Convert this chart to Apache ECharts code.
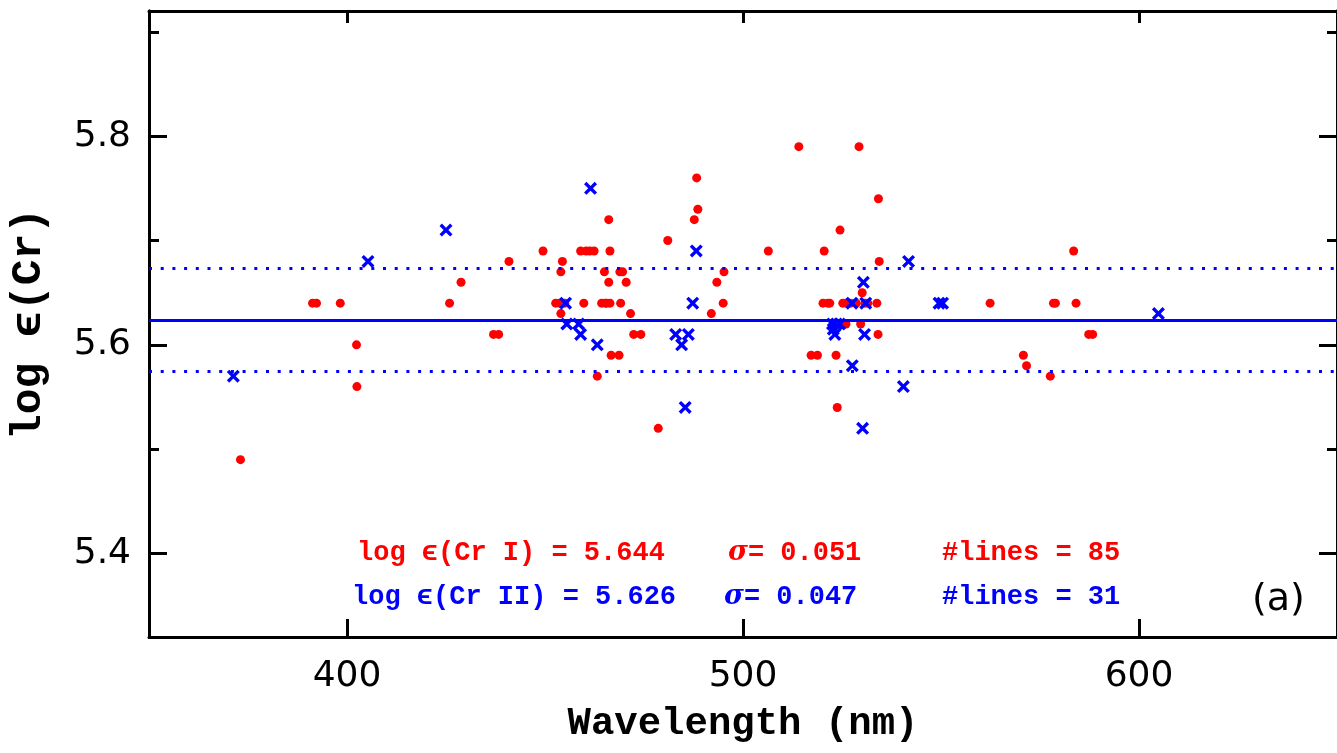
<!DOCTYPE html>
<html>
<head>
<meta charset="utf-8">
<title>log eps(Cr)</title>
<script src="https://cdn.jsdelivr.net/npm/echarts@6/dist/echarts.min.js"></script>
<style>
  html, body { margin: 0; padding: 0; background: #fff; }
  #chart { width: 1337px; height: 753px; }
</style>
</head>
<body>
<div id="chart"></div>
<script type="text/javascript">
// Cr I lines (red dots): wavelength (nm) and abundance
var crI_wl = [373.1, 391.3, 392.3, 398.3, 402.4, 402.5, 425.9, 428.8, 437.0, 438.3,
              440.9, 449.5, 452.7, 453.7, 454.0, 454.0, 454.4, 459.0, 461.3, 462.4,
              459.8, 463.2, 464.3, 465.2, 466.4, 465.0, 466.1, 466.1, 466.4, 466.7,
              468.7, 468.9, 469.6, 469.1, 470.5, 471.6, 472.4, 474.2, 478.6, 481.0,
              487.7, 488.3, 488.6, 492.0, 493.4, 495.0, 495.2, 506.4, 514.1, 517.2,
              518.8, 520.2, 520.5, 521.9, 523.5, 523.8, 524.5, 525.2, 526.1, 526.0,
              528.6, 529.3, 529.7, 530.1, 531.5, 533.8, 534.1, 534.2, 534.4, 562.4,
              570.8, 571.6, 577.6, 578.4, 583.5, 584.1, 587.3, 588.3, 527.2, 530.8,
              521.4, 465.6, 460.4, 455.0, 578.9];
var crI_abund = [5.49, 5.64, 5.64, 5.64, 5.60, 5.56, 5.64, 5.66, 5.61, 5.61,
                 5.68, 5.69, 5.64, 5.64, 5.63, 5.67, 5.68, 5.69, 5.69, 5.69,
                 5.64, 5.57, 5.64, 5.64, 5.64, 5.67, 5.66, 5.72, 5.69, 5.59,
                 5.59, 5.67, 5.67, 5.64, 5.66, 5.63, 5.61, 5.61, 5.52, 5.70,
                 5.72, 5.76, 5.73, 5.63, 5.66, 5.64, 5.67, 5.69, 5.79, 5.59,
                 5.59, 5.64, 5.69, 5.64, 5.59, 5.54, 5.71, 5.64, 5.64, 5.62,
                 5.64, 5.79, 5.62, 5.65, 5.64, 5.64, 5.61, 5.74, 5.68, 5.64,
                 5.59, 5.58, 5.57, 5.64, 5.69, 5.64, 5.61, 5.61, 5.64, 5.64,
                 5.64, 5.64, 5.69, 5.64, 5.64];

// Cr II lines (blue crosses)
var crII_wl = [371.3, 405.3, 425.0, 455.2, 455.5, 458.5, 459.0, 461.5, 463.2, 483.0,
               486.2, 484.5, 485.4, 488.2, 487.3, 530.4, 527.5, 531.0, 549.5, 550.4,
               522.6, 523.6, 524.4, 522.8, 523.2, 530.7, 527.6, 540.5, 530.2, 541.8,
               604.9];
var crII_abund = [5.57, 5.68, 5.71, 5.64, 5.62, 5.62, 5.61, 5.75, 5.60, 5.61,
                  5.61, 5.60, 5.54, 5.69, 5.64, 5.66, 5.64, 5.64, 5.64, 5.64,
                  5.62, 5.62, 5.62, 5.615, 5.61, 5.61, 5.58, 5.56, 5.52, 5.68,
                  5.63];

// mean and +/- sigma lines as drawn in the figure
var meanLine = 5.624, sigmaLine = 0.049;

var xTicks = [400, 500, 600];
var yTicks = [5.4, 5.6, 5.8];
var yMinorTicks = [5.5, 5.7, 5.9];

var statsText = [
  ['log \u03f5(Cr I) = 5.644', '0.051', '#lines = 85'],
  ['log \u03f5(Cr II) = 5.626', '0.047', '#lines = 31']
];

function zip(a, b) {
  var out = [];
  for (var i = 0; i < a.length; i++) out.push([a[i], b[i]]);
  return out;
}

var myChart = echarts.init(document.getElementById('chart'));

var axisBlack = { lineStyle: { color: '#000', width: 3 } };
var tickFont = { fontFamily: 'DejaVu Sans', fontSize: 36, color: '#000' };
var monoBold = 'bold 27px "Liberation Mono", monospace';
// filled X shape for the Cr II markers
var crossPath = 'path://M0,2.2L2.2,0L6,3.8L9.8,0L12,2.2L8.2,6L12,9.8L9.8,12L6,8.2L2.2,12L0,9.8L3.8,6Z';

function yAx(pos, values, len, labels) {
  return {
    type: 'value', position: pos, min: 5.32, max: 5.92,
    axisLine: { show: true, lineStyle: { color: '#000', width: 3 } },
    axisTick: { show: true, inside: true, length: len, customValues: values,
                lineStyle: { color: '#000', width: 3 } },
    axisLabel: labels ? Object.assign({ customValues: values, margin: 18,
                formatter: function (v) { return v.toFixed(1); } }, tickFont)
                      : { show: false },
    splitLine: { show: false }
  };
}

var option = {
  animation: false,
  backgroundColor: '#fff',
  grid: { left: 148, top: 11, width: 1192, height: 626, containLabel: false },
  xAxis: [
    {
      type: 'value', position: 'bottom', min: 350, max: 650,
      axisLine: axisBlack,
      axisTick: { inside: true, length: 18, customValues: xTicks, lineStyle: { color: '#000', width: 3 } },
      axisLabel: Object.assign({ customValues: xTicks, margin: 22 }, tickFont),
      splitLine: { show: false },
      name: 'Wavelength (nm)', nameLocation: 'middle', nameGap: 68,
      nameTextStyle: { fontFamily: 'Liberation Mono', fontWeight: 'bold', fontSize: 39, color: '#000' }
    },
    {
      type: 'value', position: 'top', min: 350, max: 650,
      axisLine: axisBlack,
      axisTick: { inside: true, length: 12, customValues: xTicks, lineStyle: { color: '#000', width: 3 } },
      axisLabel: { show: false },
      splitLine: { show: false }
    }
  ],
  yAxis: [
    Object.assign(yAx('left', yTicks, 18, true), {
      name: 'log \u03f5(Cr)', nameLocation: 'middle', nameGap: 98, nameRotate: 90,
      nameTextStyle: { fontFamily: 'Liberation Mono', fontWeight: 'bold', fontSize: 43, color: '#000' }
    }),
    yAx('left', yMinorTicks, 10, false),
    yAx('right', yTicks, 18, false),
    yAx('right', yMinorTicks, 10, false)
  ],
  series: [
    {
      name: 'ref', type: 'line', data: [], z: 1,
      markLine: {
        silent: true, symbol: 'none', animation: false, precision: 5,
        label: { show: false },
        data: [
          { yAxis: meanLine, lineStyle: { color: '#0000ff', width: 3, type: 'solid' } },
          { yAxis: meanLine + sigmaLine, lineStyle: { color: '#0000ff', width: 3, type: [3, 8.7] } },
          { yAxis: meanLine - sigmaLine, lineStyle: { color: '#0000ff', width: 3, type: [3, 8.7] } }
        ]
      }
    },
    {
      name: 'Cr I', type: 'scatter', data: zip(crI_wl, crI_abund), z: 3,
      symbol: 'circle', symbolSize: 9,
      itemStyle: { color: '#ff0000', opacity: 1 }
    },
    {
      name: 'Cr II', type: 'scatter', data: zip(crII_wl, crII_abund), z: 4,
      symbol: crossPath, symbolSize: 13,
      itemStyle: { color: '#0000ff', opacity: 1 }
    }
  ],
  graphic: []
};

var rowY = [553, 597];
var rowColor = ['#ff0000', '#0000ff'];
var colX = [[357, 728, 942], [352, 724, 942]];
for (var r = 0; r < 2; r++) {
  option.graphic.push({
    type: 'text', x: colX[r][0], y: rowY[r], silent: true,
    style: { text: statsText[r][0], fill: rowColor[r], font: monoBold, verticalAlign: 'middle', textVerticalAlign: 'middle' }
  });
  option.graphic.push({
    type: 'text', x: colX[r][1], y: rowY[r], silent: true,
    style: {
      text: '{s|\u03c3}= ' + statsText[r][1], fill: rowColor[r], font: monoBold,
      verticalAlign: 'middle', textVerticalAlign: 'middle',
      rich: { s: { fontFamily: 'DejaVu Serif', fontStyle: 'italic', fontWeight: 'bold', fontSize: 27, fill: rowColor[r] } }
    }
  });
  option.graphic.push({
    type: 'text', x: colX[r][2], y: rowY[r], silent: true,
    style: { text: statsText[r][2], fill: rowColor[r], font: monoBold, verticalAlign: 'middle', textVerticalAlign: 'middle' }
  });
}
option.graphic.push({
  type: 'text', x: 1252, y: 600, silent: true,
  style: { text: '(a)', fill: '#000', font: '38px "DejaVu Sans"', verticalAlign: 'middle', textVerticalAlign: 'middle' }
});

myChart.setOption(option);
</script>
</body>
</html>
